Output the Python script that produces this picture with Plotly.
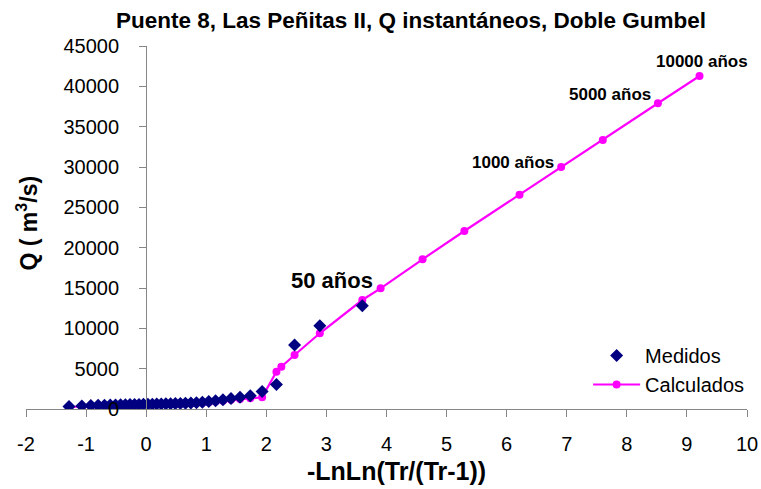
import plotly.graph_objects as go

# Gumbel reduced variate -LnLn(Tr/(Tr-1)) of the measured annual peaks
x_medidos = [-1.284, -1.071, -0.921, -0.800, -0.694, -0.598, -0.510, -0.426, -0.346,
             -0.269, -0.193, -0.119, -0.045, 0.029, 0.102, 0.176, 0.251, 0.328,
             0.406, 0.486, 0.569, 0.654, 0.744, 0.837, 0.936, 1.042, 1.155,
             1.278, 1.412, 1.562, 1.732, 1.930, 2.168, 2.470, 2.890, 3.597]
q_medidos = [300, 380, 420, 450, 470, 490, 510, 520, 530,
             545, 560, 570, 580, 590, 600, 615, 630, 640,
             655, 670, 690, 710, 740, 780, 840, 920, 1020,
             1150, 1300, 1450, 1650, 2180, 3050, 7930, 10330, 12810]

# Double Gumbel fit evaluated at the plotting positions and at design return periods
x_calculados = [-1.284, -1.071, -0.921, -0.800, -0.694, -0.598, -0.510, -0.426, -0.346,
                -0.269, -0.193, -0.119, -0.045, 0.029, 0.102, 0.176, 0.251, 0.328,
                0.406, 0.486, 0.569, 0.654, 0.744, 0.837, 0.936, 1.042, 1.155,
                1.278, 1.412, 1.562, 1.732, 1.930, 2.168, 2.250, 2.470, 2.890,
                3.597, 3.902, 4.600, 5.296, 6.214, 6.907, 7.600, 8.517, 9.210]
q_calculados = [250, 330, 380, 410, 430, 450, 470, 480, 490,
                505, 520, 530, 540, 550, 560, 575, 590, 600,
                615, 630, 650, 670, 700, 730, 780, 850, 930,
                1030, 1140, 1240, 1330, 1450, 4625, 5245, 6695, 9385,
                13510, 14960, 18560, 22070, 26570, 30000, 33350, 37900, 41280]

# Axis tick labels
x_ticks = [-2, -1, 0, 1, 2, 3, 4, 5, 6, 7, 8, 9, 10]
x_ticktext = ["-2", "-1", "0", "1", "2", "3", "4", "5", "6", "7", "8", "9", "10"]

# Return-period labels
etiquetas = ["50 años", "1000 años", "5000 años", "10000 años"]
etiq_x = [3.10, 6.11, 7.72, 9.25]
etiq_y = [15990, 30620, 38990, 43140]
etiq_size = [22, 17, 17, 17]

FONT = "Arial, Liberation Sans, sans-serif"
W, H = 761, 489
L, R, T, B = 25.5, 14, 46, 80

fig = go.Figure()

fig.add_trace(go.Scatter(
    x=x_calculados, y=q_calculados, name="Calculados",
    mode="lines+markers",
    line=dict(color="#FF00FF", width=2.2),
    marker=dict(symbol="circle", size=8, color="#FF00FF"),
    legendrank=2,
))
fig.add_trace(go.Scatter(
    x=x_medidos, y=q_medidos, name="Medidos",
    mode="markers",
    marker=dict(symbol="diamond", size=10, color="#000080"),
    legendrank=1,
))

for txt, ex, ey, fs in zip(etiquetas, etiq_x, etiq_y, etiq_size):
    fig.add_annotation(x=ex, y=ey, xref="x", yref="y", text=f"<b>{txt}</b>",
                       xanchor="center", yanchor="middle",
                       showarrow=False, font=dict(family=FONT, size=fs, color="black"))

pw = W - L - R
ph = H - T - B

def px_x(p):
    return (p - L) / pw

def px_y(p):
    return (H - B - p) / ph

fig.add_annotation(x=px_x(396), y=px_y(471), xref="paper", yref="paper",
                   xanchor="center", yanchor="middle",
                   text="<b>-LnLn(Tr/(Tr-1))</b>", showarrow=False,
                   font=dict(family=FONT, size=25, color="black"))
fig.add_annotation(x=px_x(27), y=px_y(223), xref="paper", yref="paper",
                   xanchor="center", yanchor="middle",
                   text="<b>Q ( m<sup>3</sup>/s)</b>", showarrow=False, textangle=-90,
                   font=dict(family=FONT, size=23, color="black"))

fig.update_layout(
    width=W, height=H,
    margin=dict(l=L, r=R, t=T, b=B, autoexpand=False),
    paper_bgcolor="white", plot_bgcolor="white",
    font=dict(family=FONT, color="black"),
    title=dict(text="<b>Puente 8, Las Peñitas II, Q instantáneos, Doble Gumbel</b>",
               x=411 / W, xref="container", xanchor="center",
               y=1 - 20 / H, yref="container", yanchor="middle",
               font=dict(family=FONT, size=22.5, color="black")),
    xaxis=dict(range=[-2, 10], tickvals=x_ticks, ticktext=x_ticktext,
               showgrid=False, zeroline=False,
               showline=True, linecolor="#868686", linewidth=1.3,
               ticks="outside", ticklen=7, tickcolor="#868686", tickwidth=1.3,
               ticklabelstandoff=10,
               tickfont=dict(family=FONT, size=20, color="black")),
    yaxis=dict(range=[0, 45000], dtick=5000, tick0=0, tickformat="d",
               showgrid=False, zeroline=False,
               anchor="free", position=2 / 12,
               showline=True, linecolor="#868686", linewidth=1.3,
               ticks="outside", ticklen=7, tickcolor="#868686", tickwidth=1.3,
               ticklabelstandoff=16,
               tickfont=dict(family=FONT, size=20, color="black")),
    legend=dict(x=px_x(588), y=px_y(336), xanchor="left", yanchor="top",
                bgcolor="rgba(0,0,0,0)", font=dict(family=FONT, size=20, color="black"),
                itemwidth=47, tracegroupgap=0),
    showlegend=True,
)

fig.write_html("out.html")
